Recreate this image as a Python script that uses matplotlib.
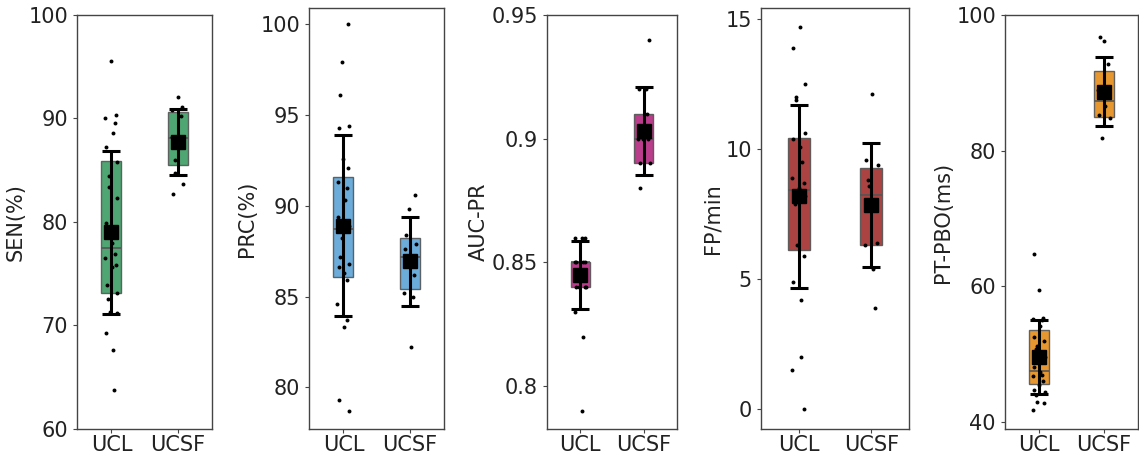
import matplotlib.pyplot as plt
import numpy as np

SITES = ["UCL", "UCSF"]
YLABELS = ["SEN(%)", "PRC(%)", "AUC-PR", "FP/min", "PT-PBO(ms)"]
COLORS = ["#3d9d64", "#5ba3d8", "#b3287f", "#a32e2e", "#e58c18"]

# per-recording values
SEN_UCL = [95.6, 90.3, 90.0, 89.6, 88.6, 87.2, 85.8, 84.4, 83.4, 82.3, 79.9, 78.0,
           76.9, 76.5, 75.8, 75.7, 73.9, 73.1, 72.6, 71.3, 71.2, 69.3, 67.6, 63.8]
SEN_UCSF = [92.1, 91.1, 90.8, 90.2, 88.2, 88.2, 87.6, 86.0, 84.7, 83.7, 82.7]
PRC_UCL = [100.0, 97.9, 96.1, 94.4, 94.3, 92.6, 92.1, 91.3, 91.0, 90.3, 89.4, 88.9,
           88.2, 87.2, 86.8, 86.6, 86.3, 85.9, 84.6, 83.7, 83.3, 79.3, 78.7]
PRC_UCSF = [90.6, 89.8, 88.4, 87.9, 87.6, 86.9, 86.2, 85.2, 85.0, 82.2]
AUC_UCL = [0.86, 0.86, 0.86, 0.85, 0.85, 0.85, 0.85, 0.85, 0.84, 0.84, 0.84, 0.84,
           0.83, 0.82, 0.79]
AUC_UCSF = [0.94, 0.92, 0.92, 0.91, 0.90, 0.90, 0.90, 0.89, 0.89, 0.88]
FP_UCL = [14.7, 13.9, 12.5, 12.0, 11.9, 10.6, 10.4, 10.1, 9.5, 8.9, 8.7, 8.5, 8.4,
          8.2, 7.9, 6.3, 5.9, 4.9, 4.2, 2.0, 1.5, 0.0]
FP_UCSF = [12.1, 9.6, 9.4, 8.8, 8.6, 6.4, 6.3, 5.4, 3.9]
PT_UCL = [64.8, 59.5, 55.3, 55.2, 55.0, 54.2, 52.6, 52.0, 51.3, 50.8, 49.6, 48.1,
          47.4, 47.0, 46.8, 46.0, 45.5, 44.7, 44.5, 44.0, 43.0, 42.8, 41.8]
PT_UCSF = [96.8, 96.1, 92.8, 89.0, 88.5, 86.6, 85.2, 84.8, 81.9]

# box / mean summaries, order: SEN, PRC, AUC-PR, FP/min, PT-PBO
Q1_UCL = [73.1, 86.1, 0.840, 6.11, 45.6]
MED_UCL = [77.5, 88.7, 0.850, 8.43, 47.5]
Q3_UCL = [85.9, 91.6, 0.850, 10.41, 53.6]
MEAN_UCL = [79.0, 88.9, 0.845, 8.18, 49.6]
STD_UCL = [7.85, 5.0, 0.0138, 3.52, 5.5]
Q1_UCSF = [85.5, 85.4, 0.890, 6.33, 85.0]
MED_UCSF = [88.1, 87.2, 0.900, 8.25, 87.4]
Q3_UCSF = [90.6, 88.25, 0.910, 9.26, 91.8]
MEAN_UCSF = [87.7, 86.95, 0.903, 7.85, 88.7]
STD_UCSF = [3.2, 2.45, 0.0178, 2.39, 5.05]

YLIMS = [(60, 100), (77.7, 100.9), (0.7827, 0.95), (-0.75, 15.42), (39.0, 100)]
YTICKS = [[60, 70, 80, 90, 100], [80, 85, 90, 95, 100], [0.8, 0.85, 0.9, 0.95],
          [0, 5, 10, 15], [40, 60, 80, 100]]
YTICKLABELS = [None, None, ["0.8", "0.85", "0.9", "0.95"], None, None]

# axes boxes in pixels: left, right, top, bottom
W, H = 1139, 453
BOXES = [(77, 212, 15, 429), (309, 444, 8, 429), (547, 677, 15, 429),
         (761, 909, 8, 429), (1005, 1138, 15, 429)]

points = [(SEN_UCL, SEN_UCSF), (PRC_UCL, PRC_UCSF), (AUC_UCL, AUC_UCSF),
          (FP_UCL, FP_UCSF), (PT_UCL, PT_UCSF)]

plt.rcParams["font.family"] = "DejaVu Sans"
fig = plt.figure(figsize=(W / 100, H / 100), dpi=100)

for i in range(5):
    l, r, t, b = BOXES[i]
    ax = fig.add_axes([l / W, 1 - b / H, (r - l) / W, (b - t) / H])
    stats = []
    for q1, med, q3 in [(Q1_UCL[i], MED_UCL[i], Q3_UCL[i]),
                        (Q1_UCSF[i], MED_UCSF[i], Q3_UCSF[i])]:
        stats.append({"q1": q1, "med": med, "q3": q3, "whislo": q1, "whishi": q3,
                      "fliers": []})
    ax.bxp(stats, positions=[1, 2], widths=0.3, patch_artist=True, showcaps=False,
           boxprops={"facecolor": COLORS[i], "edgecolor": "#555555", "linewidth": 1.0,
                     "alpha": 0.9},
           medianprops={"color": "#555555", "linewidth": 1.2},
           whiskerprops={"linewidth": 0}, zorder=1)
    for pos, vals in zip([1, 2], points[i]):
        n = len(vals)
        offs = 0.09 * np.sin(np.arange(n) * 2.3 + i)
        ax.scatter(pos + offs, vals, s=8, color="black", zorder=3, linewidths=0)
    ax.errorbar([1, 2], [MEAN_UCL[i], MEAN_UCSF[i]], yerr=[STD_UCL[i], STD_UCSF[i]],
                fmt="s", color="black", markersize=9.5, elinewidth=2.2, capsize=6.5,
                capthick=2.2, zorder=4)
    ax.set_xlim(0.48, 2.52)
    ax.set_ylim(*YLIMS[i])
    ax.set_yticks(YTICKS[i])
    if YTICKLABELS[i]:
        ax.set_yticklabels(YTICKLABELS[i])
    ax.set_xticks([1, 2])
    ax.set_xticklabels(SITES)
    ax.set_ylabel(YLABELS[i], fontsize=15, color="#222222", labelpad=2)
    ax.tick_params(labelsize=15, colors="#222222", length=3, color="#444444")
    ax.tick_params(axis="x", pad=1.5)
    for sp in ax.spines.values():
        sp.set_color("#444444")
        sp.set_linewidth(1.0)

fig.savefig("out.png", dpi=100)
